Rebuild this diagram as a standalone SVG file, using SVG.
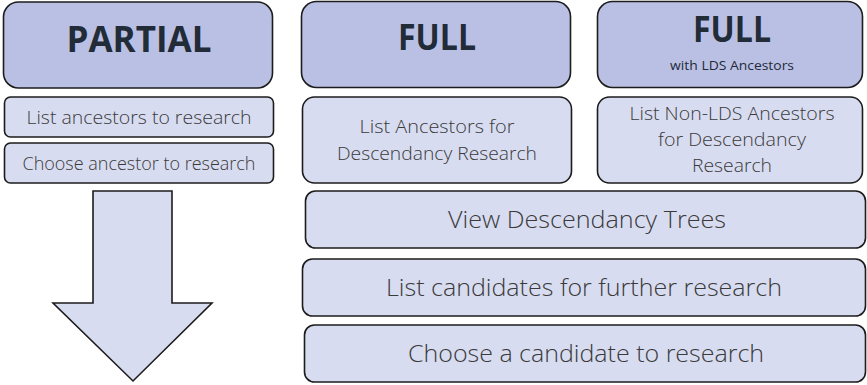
<svg xmlns="http://www.w3.org/2000/svg" width="867" height="385" viewBox="0 0 867 385">
<style>
.hdr{fill:#bac0e4;stroke:#1c1c1c;stroke-width:1.6}
.box{fill:#d8dcf0;stroke:#1c1c1c;stroke-width:1.6}
.ht{font-family:"Open Sans","Liberation Sans",sans-serif;font-weight:bold;fill:#222b38;text-anchor:middle}
.bt{font-family:"Open Sans","Liberation Sans",sans-serif;font-weight:300;fill:#3a3a3a;text-anchor:middle}
</style>
<rect width="867" height="385" fill="#ffffff"/>
<g id="partial">
<rect class="hdr" x="3.5" y="2" width="269" height="86" rx="15"/>
<text class="ht" x="139" y="52" font-size="35">PARTIAL</text>
</g>
<g id="list-ancestors">
<rect class="box" x="4.5" y="97" width="269" height="40" rx="6"/>
<text class="bt" x="139" y="124" font-size="19" textLength="225" lengthAdjust="spacingAndGlyphs">List ancestors to research</text>
</g>
<g id="choose-ancestor">
<rect class="box" x="4.5" y="143" width="269" height="40" rx="6"/>
<text class="bt" x="139" y="170" font-size="18" textLength="233" lengthAdjust="spacingAndGlyphs">Choose ancestor to research</text>
</g>
<g id="arrow">
<polygon class="box" points="93,191 172,191 172,303 212,303 133,381 53,303 93,303"/>
</g>
<g id="full">
<rect class="hdr" x="301.5" y="1.5" width="269" height="86" rx="15"/>
<text class="ht" x="437" y="50" font-size="35" textLength="78" lengthAdjust="spacingAndGlyphs">FULL</text>
</g>
<g id="full-lds">
<rect class="hdr" x="597.5" y="1.5" width="265" height="86" rx="15"/>
<text class="ht" x="732" y="42" font-size="35" textLength="78" lengthAdjust="spacingAndGlyphs">FULL</text>
<text class="bt" x="732" y="70" font-size="12" textLength="124" lengthAdjust="spacingAndGlyphs" style="fill:#222b38;font-weight:normal">with LDS Ancestors</text>
</g>
<g id="list-ancestors-desc">
<rect class="box" x="302.5" y="97" width="269" height="86" rx="12"/>
<text class="bt" x="437" y="133" font-size="19" textLength="155" lengthAdjust="spacingAndGlyphs">List Ancestors for</text>
<text class="bt" x="437" y="160" font-size="19" textLength="200" lengthAdjust="spacingAndGlyphs">Descendancy Research</text>
</g>
<g id="list-nonlds">
<rect class="box" x="597.5" y="97" width="265" height="86" rx="12"/>
<text class="bt" x="732" y="120" font-size="19" textLength="205" lengthAdjust="spacingAndGlyphs">List Non-LDS Ancestors</text>
<text class="bt" x="732" y="146" font-size="19" textLength="148" lengthAdjust="spacingAndGlyphs">for Descendancy</text>
<text class="bt" x="732" y="172" font-size="19" textLength="80" lengthAdjust="spacingAndGlyphs">Research</text>
</g>
<g id="view-trees">
<rect class="box" x="305.5" y="191" width="560" height="57" rx="10"/>
<text class="bt" x="587" y="228" font-size="24" textLength="278" lengthAdjust="spacingAndGlyphs">View Descendancy Trees</text>
</g>
<g id="list-candidates">
<rect class="box" x="302.5" y="259" width="563" height="57" rx="10"/>
<text class="bt" x="584" y="296" font-size="24" textLength="396" lengthAdjust="spacingAndGlyphs">List candidates for further research</text>
</g>
<g id="choose-candidate">
<rect class="box" x="304.5" y="325" width="561" height="57" rx="10"/>
<text class="bt" x="586" y="362" font-size="24" textLength="356" lengthAdjust="spacingAndGlyphs">Choose a candidate to research</text>
</g>
<g id="connectors"></g>
</svg>
